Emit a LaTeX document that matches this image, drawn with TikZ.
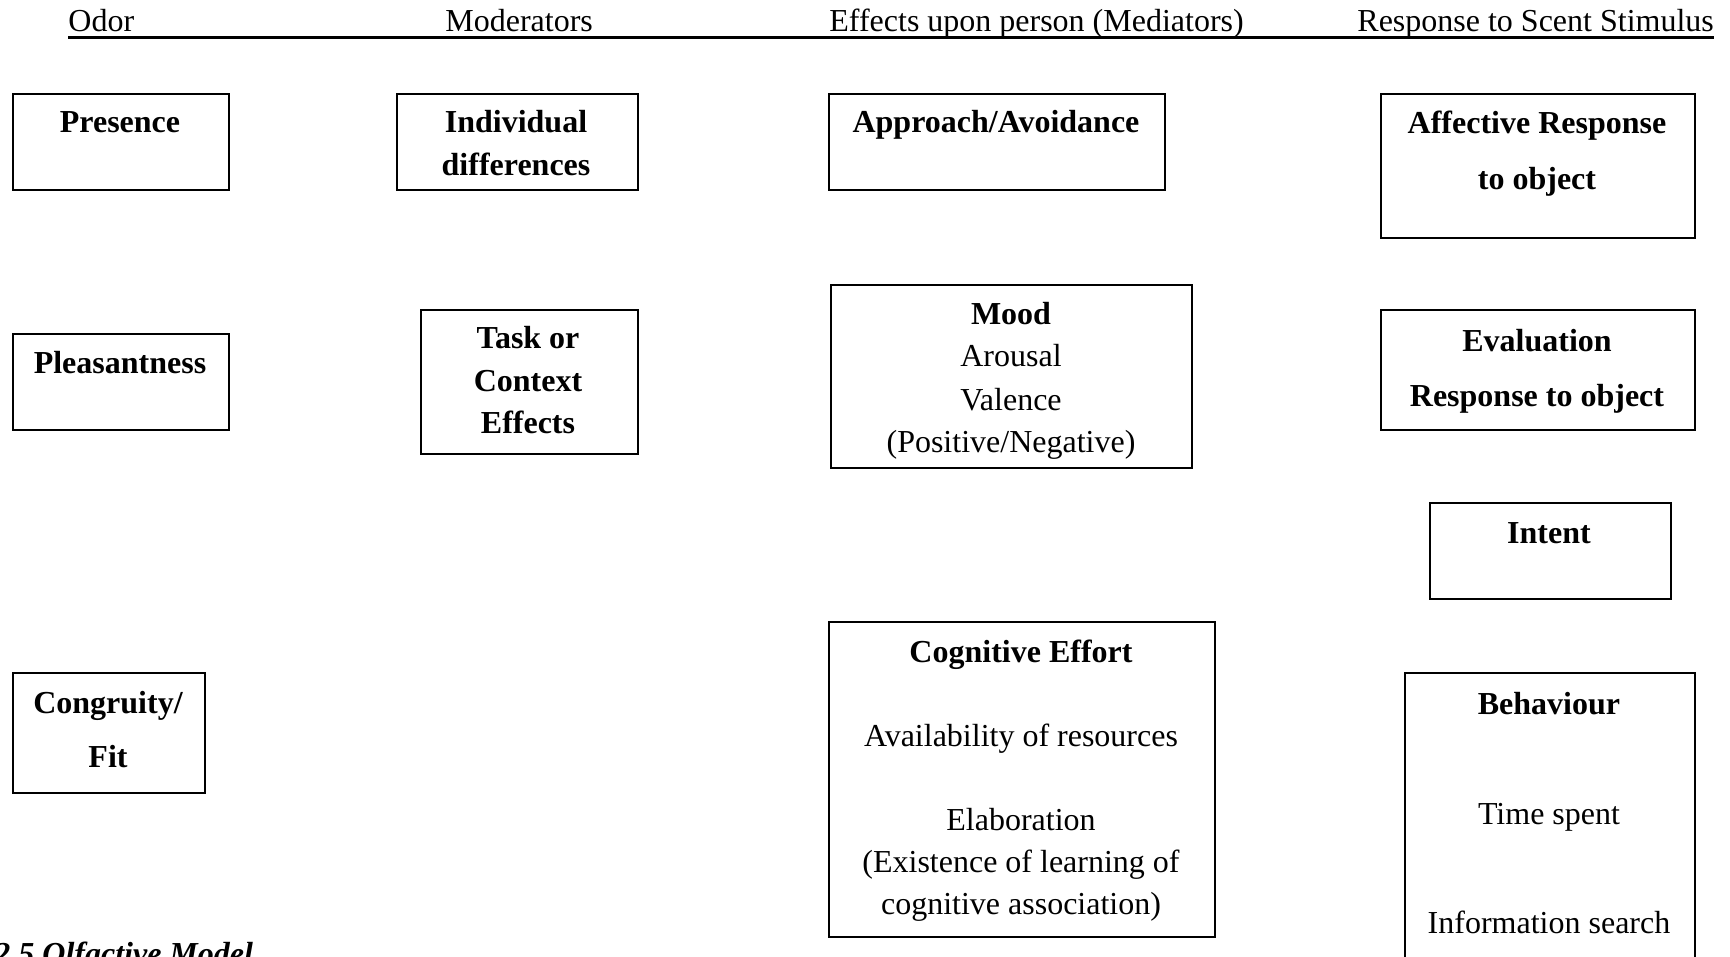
\documentclass[tikz,border=0pt]{standalone}
\usepackage{fontspec}
\setmainfont{Liberation Serif}
\begin{document}
\begin{tikzpicture}[x=0.5pt,y=-0.5pt]
\tikzset{
  box/.style={draw, line width=0.85pt, rectangle, inner sep=0pt, anchor=north west},
  txt/.style={inner sep=0pt, anchor=base, font=\fontsize{16}{20}\selectfont},
  btxt/.style={inner sep=0pt, anchor=base, font=\fontsize{16}{20}\selectfont\bfseries},
  head/.style={inner sep=0pt, anchor=base west, font=\fontsize{16}{20}\selectfont},
  figcaption/.style={inner sep=0pt, anchor=base west, font=\fontsize{16}{20}\selectfont\bfseries\itshape}
}
\path[use as bounding box, clip] (0,0) rectangle (1730,957);

% column headings with the rule beneath them
\node[head] (h1) at (68,32) {Odor};
\node[head] (h2) at (445,32) {Moderators};
\node[head] (h3) at (829,32) {Effects upon person (Mediators)};
\node[head] (h4) at (1357,32) {Response to Scent Stimulus};
\coordinate (rl) at (68,37.5);
\coordinate (rr) at (1714,37.5);
\draw[line width=1.2pt] (rl) -- (rr);

% Odor column
\node[box, minimum width=108pt, minimum height=48pt] (pres) at (12,93) {};
\node[btxt] (pres-t) at (120,133) {Presence};
\node[box, minimum width=108pt, minimum height=48pt] (pleas) at (12,333) {};
\node[btxt] (pleas-t) at (120,373) {Pleasantness};
\node[box, minimum width=96pt, minimum height=60pt] (cong) at (12,672) {};
\node[btxt] (cong-a) at (108,713) {Congruity/};
\node[btxt] (cong-b) at (108,767) {Fit};

% Moderators column
\node[box, minimum width=120.5pt, minimum height=48pt] (indiv) at (396,93) {};
\node[btxt] (indiv-a) at (516,133) {Individual};
\node[btxt] (indiv-b) at (516,176) {differences};
\node[box, minimum width=108.5pt, minimum height=72pt] (task) at (420,309) {};
\node[btxt] (task-a) at (528,349) {Task or};
\node[btxt] (task-b) at (528,392) {Context};
\node[btxt] (task-c) at (528,433) {Effects};

% Mediators column
\node[box, minimum width=168pt, minimum height=48pt] (appr) at (828,93) {};
\node[btxt] (appr-t) at (996,133) {Approach/Avoidance};
\node[box, minimum width=180.5pt, minimum height=91.5pt] (mood) at (830,284) {};
\node[btxt] (mood-a) at (1011,325) {Mood};
\node[txt] (mood-b) at (1011,366) {Arousal};
\node[txt] (mood-c) at (1011,410) {Valence};
\node[txt] (mood-d) at (1011,452) {(Positive/Negative)};
\node[box, minimum width=193pt, minimum height=157.5pt] (cogn) at (828,621) {};
\node[btxt] (cogn-a) at (1021,662) {Cognitive Effort};
\node[txt] (cogn-b) at (1021,746) {Availability of resources};
\node[txt] (cogn-c) at (1021,830) {Elaboration};
\node[txt] (cogn-d) at (1021,872) {(Existence of learning of};
\node[txt] (cogn-e) at (1021,914) {cognitive association)};

% Response column
\node[box, minimum width=157pt, minimum height=72pt] (aff) at (1380,93) {};
\node[btxt] (aff-a) at (1537,134) {Affective Response};
\node[btxt] (aff-b) at (1537,190) {to object};
\node[box, minimum width=157pt, minimum height=60pt] (eval) at (1380,309) {};
\node[btxt] (eval-a) at (1537,351) {Evaluation};
\node[btxt] (eval-b) at (1537,406) {Response to object};
\node[box, minimum width=120.5pt, minimum height=48pt] (intent) at (1429,502) {};
\node[btxt] (intent-t) at (1549,543) {Intent};
\node[box, minimum width=145pt, minimum height=170pt] (behav) at (1404,672) {};
\node[btxt] (behav-a) at (1549,714) {Behaviour};
\node[txt] (behav-b) at (1549,824) {Time spent};
\node[txt] (behav-c) at (1549,933) {Information search};

% figure caption
\node[figcaption] (caption) at (-6,964) {2.5 Olfactive Model};
\end{tikzpicture}
\end{document}
